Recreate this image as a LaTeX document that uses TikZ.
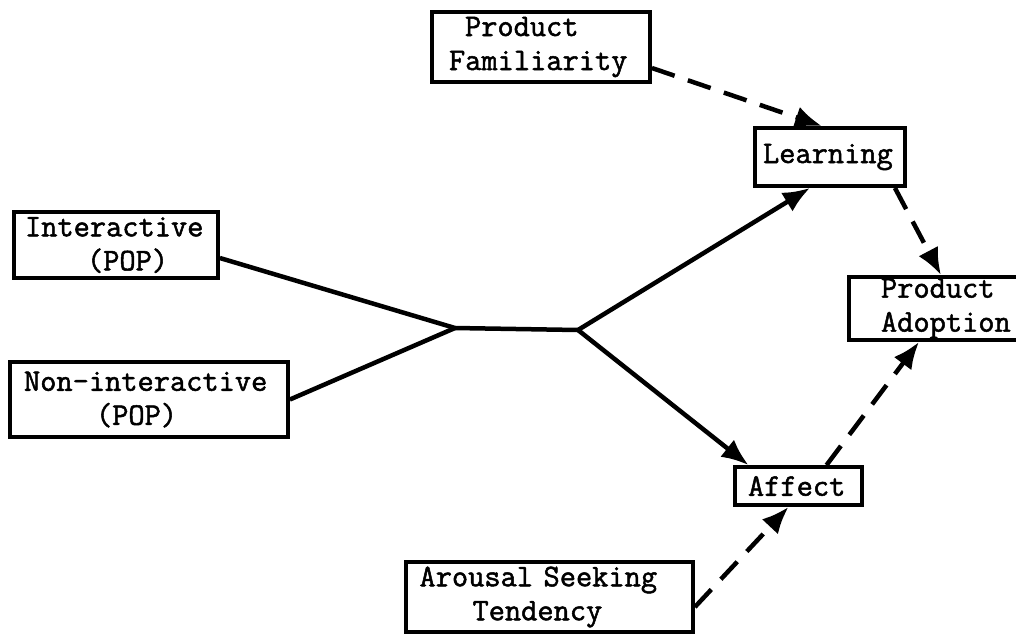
\documentclass[tikz,border=0pt]{standalone}
\usepackage{fontspec}
\newfontfamily\typewriter[FakeBold=1.6]{Latin Modern Mono}
\usetikzlibrary{arrows.meta,calc}
\begin{document}
\begin{tikzpicture}[x=1pt,y=-1pt,
  box/.style={draw,line width=3.8pt,inner sep=0pt,align=left,
    font=\typewriter\fontsize{31.5}{34}\selectfont},
  solidarrow/.style={line width=4.5pt,-{Latex[length=27pt,width=22pt]}},
  dasharrow/.style={line width=4.5pt,dash pattern=on 24pt off 14pt,-{Latex[length=27pt,width=22pt]}},
  link/.style={line width=4.5pt}]
\clip (0,0) rectangle (1016,638);
\fill[white] (0,0) rectangle (1016,638);

\node[box,minimum width=218pt,minimum height=70pt,text width=184pt] (pf) at (541,47) {\hspace*{16pt}Product\\Familiarity};
\node[box,minimum width=150pt,minimum height=58pt,text width=134pt] (learn) at (830,157) {Learning};
\node[box,minimum width=204pt,minimum height=66pt,text width=182pt] (inter) at (116,245) {Interactive\\\hspace*{62pt}(POP)};
\node[box,minimum width=278pt,minimum height=75pt,text width=250pt] (nonint) at (149,399.5) {Non-interactive\\\hspace*{72pt}(POP)};
\node[box,minimum width=176pt,minimum height=63pt,text width=164pt] (adopt) at (937,308.5) {\hspace*{26pt}Product\\\hspace*{26pt}Adoption};
\node[box,minimum width=127pt,minimum height=38pt,text width=101pt] (affect) at (798.5,486) {Affect};
\node[box,minimum width=287pt,minimum height=70pt,text width=260pt] (arousal) at (549.5,597) {Arousal Seeking\\\hspace*{53pt}Tendency};

\coordinate (j1) at (455,328);
\coordinate (j2) at (578,330);

\draw[link] ([yshift=-13pt]inter.east) -- (j1);
\draw[link] (nonint.east) -- (j1);
\draw[link] (j1) -- (j2);
\draw[solidarrow] (j2) -- ([xshift=-20pt]learn.south);
\draw[solidarrow] (j2) -- ([xshift=-50pt]affect.north);

\draw[dasharrow] ([yshift=-21pt]pf.east) -- ([xshift=-8pt]learn.north);
\draw[dasharrow] ([xshift=-12pt]learn.south east) -- ([xshift=4pt]adopt.north);
\draw[dasharrow] ([xshift=28pt]affect.north) -- ([xshift=-18pt]adopt.south);
\draw[dasharrow] ([yshift=-10pt]arousal.east) -- ([xshift=-10pt]affect.south);
\end{tikzpicture}
\end{document}
